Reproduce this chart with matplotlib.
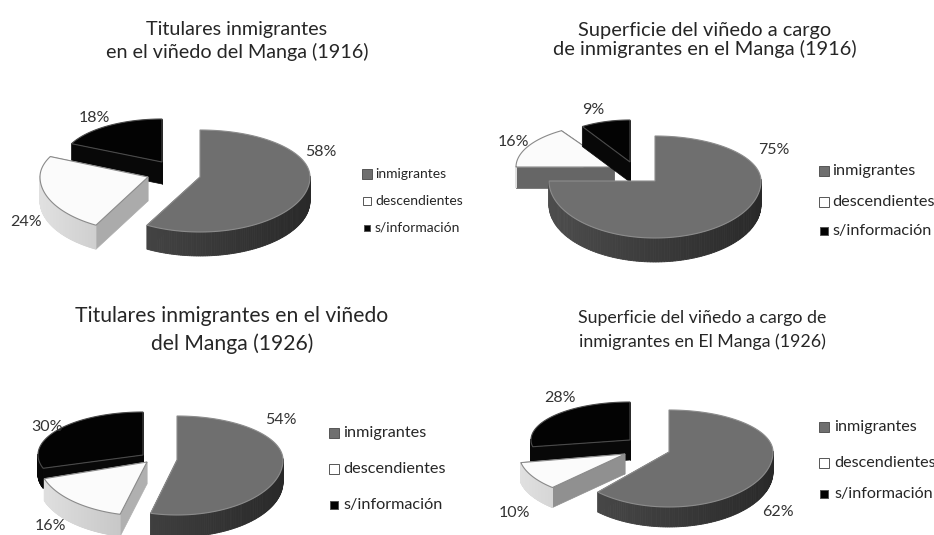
"""Four exploded pseudo-3D pies on one pixel-sized canvas."""
import matplotlib
matplotlib.use("Agg")
import matplotlib.pyplot as plt
import numpy as np

plt.rcParams["font.family"] = ["Lato", "DejaVu Sans"]

categories = ["inmigrantes", "descendientes", "s/información"]
values_1916_titulares = [58, 24, 18]
values_1916_superficie = [75, 16, 9]
values_1926_titulares = [54, 16, 30]
values_1926_superficie = [62, 10, 28]

title_1916_titulares = "Titulares inmigrantes\nen el viñedo del Manga (1916)"
title_1916_superficie = "Superficie del viñedo a cargo\nde inmigrantes en el Manga (1916)"
title_1926_titulares = "Titulares inmigrantes en el viñedo\ndel Manga (1926)"
title_1926_superficie = "Superficie del viñedo a cargo de\ninmigrantes en El Manga (1926)"

TOP = ["#6f6f6f", "#fbfbfb", "#030303"]
RIM = ["#8c8c8c", "#8a8a8a", "#4a4a4a"]
WALL_LEFT = [0.30, 0.88, 0.03]
WALL_RIGHT = [0.16, 0.62, 0.00]
MARKER_SCALE = [1.0, 0.9, 0.72]

# layout in pixels; each slice: apex x, apex y, rx, ry up, ry down, depth
charts = [
    dict(values=values_1916_titulares, title=title_1916_titulares, title_xy=(237, 41), title_fs=14.2, linespacing=1.33,
         slices=[(200, 177, 110, 47, 55, 24), (148, 177, 108, 48, 55, 24), (162, 162, 100, 43, 45, 22)],
         order=[2, 1, 0], cut="#ababab",
         label_xy=[(321, 152), (26, 222), (94, 118)],
         legend_x=367, text_x=375, legend_y=[174, 201, 228], legend_fs=10.0, marker=6.5),
    dict(values=values_1916_superficie, title=title_1916_superficie, title_xy=(705, 40), title_fs=14.4, linespacing=1.1,
         slices=[(655, 181, 106, 45, 57, 24), (614, 167, 98, 43, 50, 21), (630, 162, 89, 42, 45, 20)],
         order=[1, 2, 0], cut="#666666",
         label_xy=[(774, 150), (513, 142), (593, 110)],
         legend_x=824, text_x=832, legend_y=[171, 202, 231], legend_fs=11.7, marker=7.5),
    dict(values=values_1926_titulares, title=title_1926_titulares, title_xy=(232, 330), title_fs=15.2, linespacing=1.39,
         slices=[(177, 460, 106, 44, 55, 22), (147, 462, 108, 48, 54, 22), (143, 455, 105, 43, 43, 20)],
         order=[2, 1, 0], cut="#b0b0b0",
         label_xy=[(281, 420), (50, 526), (47, 427)],
         legend_x=334, text_x=343, legend_y=[433, 469, 505], legend_fs=11.7, marker=7.5),
    dict(values=values_1926_superficie, title=title_1926_superficie, title_xy=(702, 330), title_fs=12.8, linespacing=1.53,
         slices=[(669, 452, 104, 42, 55, 20), (625, 454, 106, 40, 46, 20), (630, 440, 99, 38, 36, 20)],
         order=[2, 1, 0], cut="#909090",
         label_xy=[(778, 512), (514, 513), (560, 398)],
         legend_x=824, text_x=834, legend_y=[427, 463, 494], legend_fs=11.6, marker=7.5),
]


def rim(start, end, geom, n=180):
    """Outer edge of a slice; angles are clockwise from twelve o'clock."""
    ax_x, ax_y, rx, up, down, _ = geom
    t = np.radians(np.linspace(start, end, n))
    ry = np.where(np.cos(t) > 0, up, down)
    return ax_x + rx * np.sin(t), ax_y - ry * np.cos(t), t


def draw_slice(ax, idx, start, end, geom, cut):
    ax_x, ax_y, _, _, _, depth = geom
    xs, ys, t = rim(start, end, geom)
    cut_color = cut if idx == 1 else str(WALL_LEFT[idx])

    # the two cut faces; the top face hides whichever looks away from us
    for ex, ey in ((xs[0], ys[0]), (xs[-1], ys[-1])):
        ax.fill([ax_x, ex, ex, ax_x], [ax_y, ey, ey + depth, ax_y + depth], color=cut_color, lw=0.5)

    # outer wall, shaded left to right
    for i in range(len(t) - 1):
        if np.cos(t[i]) > 0.02 and np.cos(t[i + 1]) > 0.02:
            continue
        shade = WALL_LEFT[idx] + (np.sin(t[i]) + 1) / 2 * (WALL_RIGHT[idx] - WALL_LEFT[idx])
        ax.fill([xs[i], xs[i + 1], xs[i + 1], xs[i]],
                [ys[i], ys[i + 1], ys[i + 1] + depth, ys[i] + depth],
                color=str(float(shade)), lw=0.6)

    ax.fill(np.r_[ax_x, xs], np.r_[ax_y, ys], facecolor=TOP[idx], edgecolor=RIM[idx], lw=0.8)


fig = plt.figure(figsize=(9.34, 5.35), dpi=100)
ax = fig.add_axes([0, 0, 1, 1])
ax.set_xlim(0, 934)
ax.set_ylim(535, 0)
ax.axis("off")

for chart in charts:
    edges = np.r_[0, np.cumsum(chart["values"])] / sum(chart["values"]) * 360
    for idx in chart["order"]:
        draw_slice(ax, idx, edges[idx], edges[idx + 1], chart["slices"][idx], chart["cut"])
    for val, (lx, ly) in zip(chart["values"], chart["label_xy"]):
        ax.text(lx, ly, f"{val}%", fontsize=11.5, color="#333333", ha="center", va="center")
    ax.text(*chart["title_xy"], chart["title"], fontsize=chart["title_fs"], color="#262626", ha="center",
            va="center", linespacing=chart["linespacing"])
    for i, (name, ly) in enumerate(zip(categories, chart["legend_y"])):
        ax.plot(chart["legend_x"], ly, marker="s", ms=chart["marker"] * MARKER_SCALE[i],
                mfc=TOP[i] if i != 1 else "white", mec="#555555", mew=0.7, ls="none")
        ax.text(chart["text_x"], ly, name, fontsize=chart["legend_fs"], color="#262626", va="center")

fig.savefig("out.png", dpi=100)
plt.close(fig)
